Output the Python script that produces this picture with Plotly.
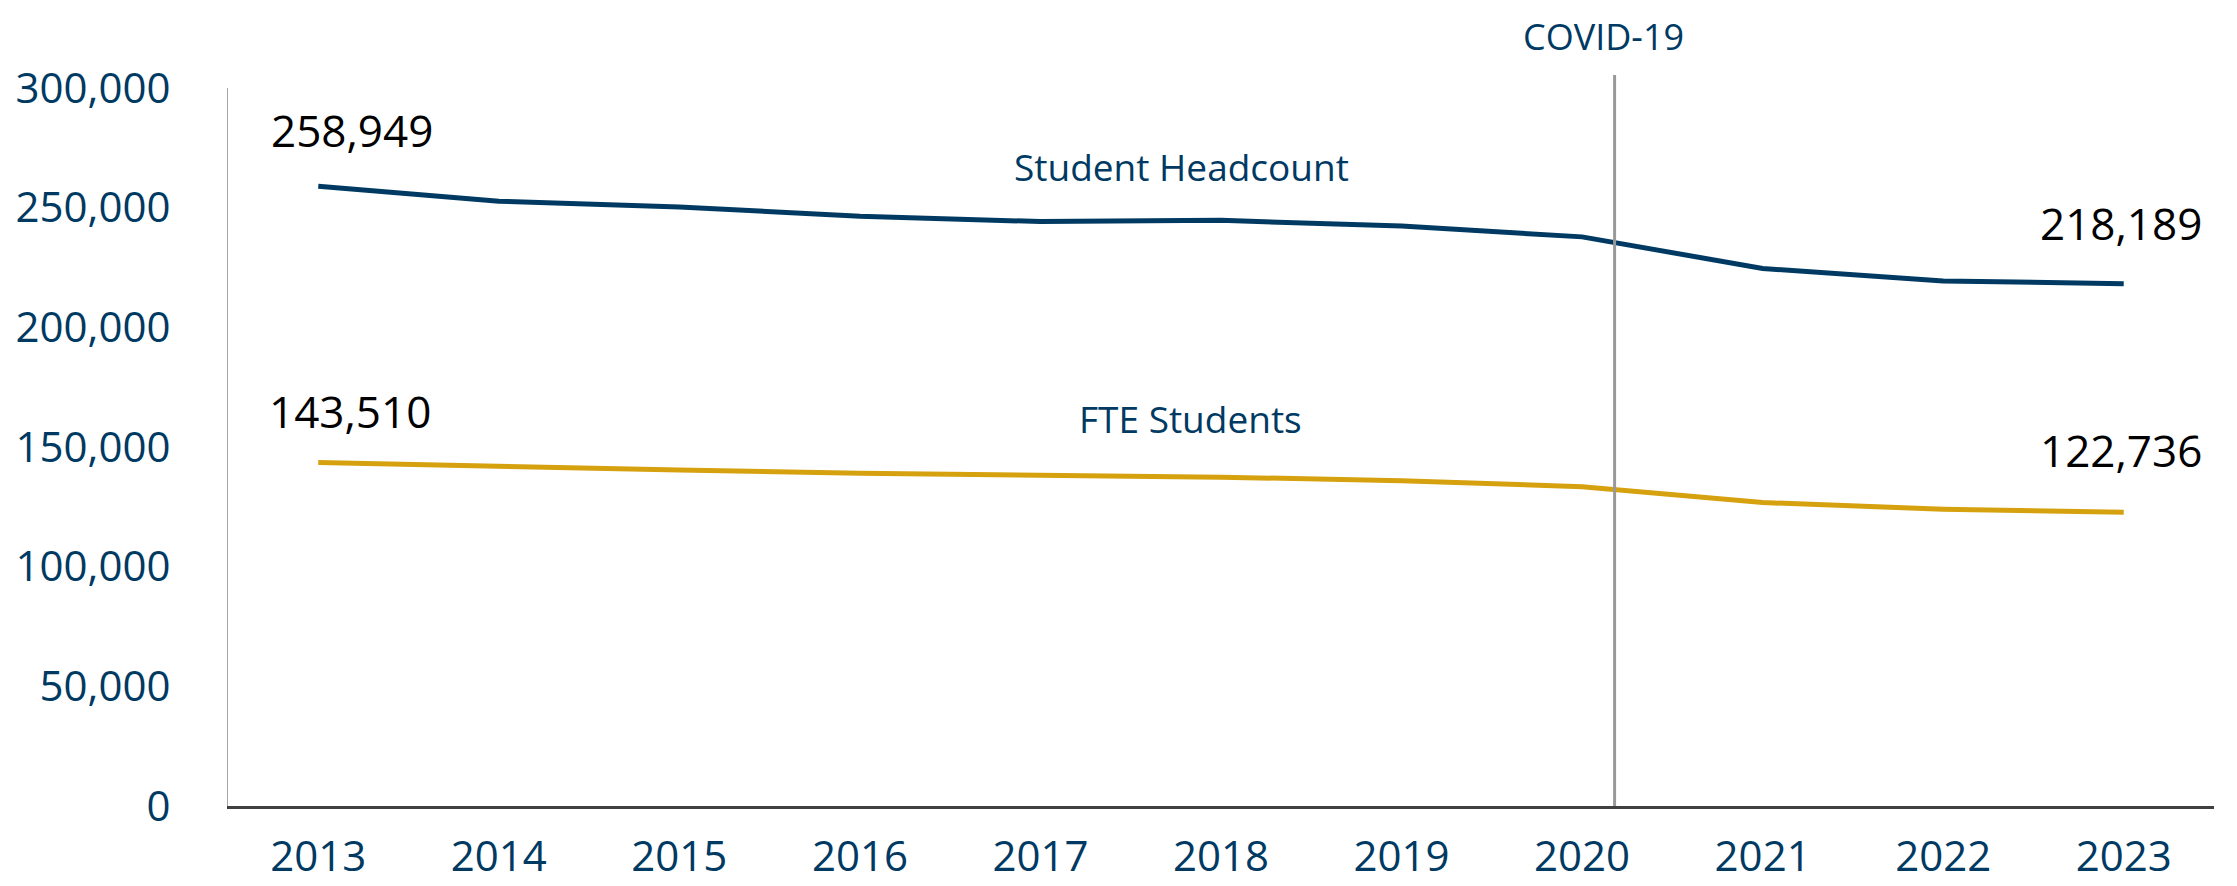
import plotly.graph_objects as go

years = ["2013", "2014", "2015", "2016", "2017", "2018", "2019", "2020", "2021", "2022", "2023"]
headcount = [258949, 252700, 250300, 246400, 244200, 244700, 242300, 237800, 224600, 219400, 218189]
fte = [143510, 141800, 140400, 139000, 138200, 137400, 135950, 133400, 126800, 124000, 122736]
y_ticks = [0, 50000, 100000, 150000, 200000, 250000, 300000]
y_tick_text = ["0", "50,000", "100,000", "150,000", "200,000", "250,000", "300,000"]

NAVY = "#003A63"
GOLD = "#D6A10F"
FONT = "Open Sans, Liberation Sans, sans-serif"

fig = go.Figure()
fig.add_trace(go.Scatter(x=years, y=headcount, mode="lines", name="Student Headcount",
                         line=dict(color=NAVY, width=5), hoverinfo="skip"))
fig.add_trace(go.Scatter(x=years, y=fte, mode="lines", name="FTE Students",
                         line=dict(color=GOLD, width=5), hoverinfo="skip"))

# COVID line
fig.add_shape(type="line", xref="x", yref="paper", x0=7.18, x1=7.18, y0=0, y1=1.018,
              line=dict(color="#999999", width=3), layer="above")

def fmt(v):
    return f"{v:,}"

first, last = 0, len(years) - 1
ann = []
ann.append(dict(x=first, y=headcount[first], text=fmt(headcount[first]), xshift=34, yshift=56))
ann.append(dict(x=first, y=fte[first], text=fmt(fte[first]), xshift=32, yshift=52))
ann.append(dict(x=last, y=headcount[last], text=fmt(headcount[last]), xshift=-3, yshift=61))
ann.append(dict(x=last, y=fte[last], text=fmt(fte[last]), xshift=-3, yshift=62))
for a in ann:
    fig.add_annotation(xref="x", yref="y", showarrow=False,
                       font=dict(family=FONT, size=44, color="#000000"), **a)

fig.add_annotation(x=4.78, y=267400, xref="x", yref="y", text="Student Headcount", showarrow=False,
                   font=dict(family=FONT, size=37, color=NAVY))
fig.add_annotation(x=4.83, y=162100, xref="x", yref="y", text="FTE Students", showarrow=False,
                   font=dict(family=FONT, size=37, color=NAVY))
fig.add_annotation(x=7.12, y=1.072, xref="x", yref="paper", yanchor="middle", text="COVID-19",
                   showarrow=False, font=dict(family=FONT, size=36, color=NAVY))

fig.update_layout(
    width=2237, height=886,
    margin=dict(l=220, r=31, t=80, b=88),
    paper_bgcolor="white", plot_bgcolor="white",
    showlegend=False,
    font=dict(family=FONT, color=NAVY),
)
fig.update_xaxes(type="category", range=[-0.5, 10.5], showgrid=False, zeroline=False,
                 showline=True, linecolor="#404040", linewidth=2.5, automargin=False,
                 ticks="", tickfont=dict(family=FONT, size=42, color=NAVY),
                 ticklabelstandoff=12)
fig.update_yaxes(range=[0, 300000], showgrid=False, zeroline=False,
                 showline=True, linecolor="#A6A6A6", linewidth=1.2, automargin=False,
                 tickvals=y_ticks, ticktext=y_tick_text, ticks="",
                 tickfont=dict(family=FONT, size=42, color=NAVY),
                 ticklabelstandoff=48)

fig.write_html("out.html")
